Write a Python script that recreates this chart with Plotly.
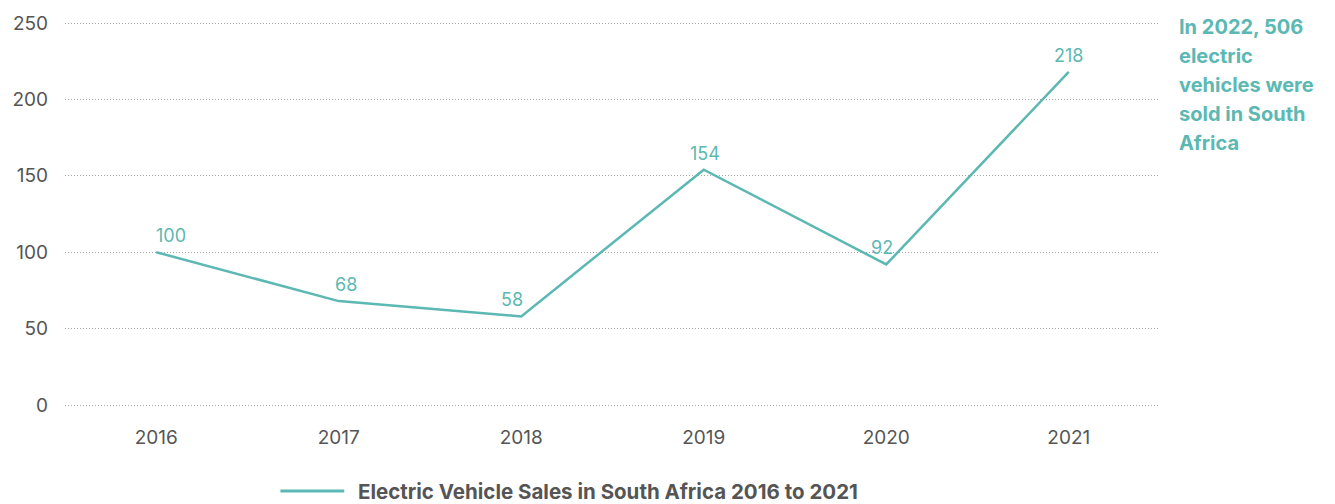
import plotly.graph_objects as go

years = ["2016", "2017", "2018", "2019", "2020", "2021"]
sales = [100, 68, 58, 154, 92, 218]
y_ticks = [0, 50, 100, 150, 200, 250]
series_name = "Electric Vehicle Sales in South Africa 2016 to 2021"
note_lines = ["In 2022, 506", "electric", "vehicles were", "sold in South", "Africa"]

TEAL = "#5bb8b2"
GREY = "#555555"
FONT = "Inter, Lato, sans-serif"

W, H = 1335, 504
# plot area padded by a few pixels so the 0 and 250 gridlines are drawn
PAD_PX = 5
ML, MR, MT, MB = 62, 175, 23 - PAD_PX, 99 - PAD_PX
PW, PH = W - ML - MR, H - MT - MB
Y_LO, Y_HI = 0, 250
pad_units = PAD_PX * (Y_HI - Y_LO) / (PH - 2 * PAD_PX)

fig = go.Figure()
fig.add_trace(go.Scatter(
    x=years, y=sales, mode="lines",
    name=series_name,
    line=dict(color=TEAL, width=2.5),
    showlegend=False,
))

# value labels above each point (category axis: index positions),
# nudged sideways a little so they sit clear of the line
label_nudge = [0, 7, -9, 1, -4, 0]
for i, v in enumerate(sales):
    fig.add_annotation(
        x=i, y=v, text=str(v), showarrow=False,
        xanchor="left" if i == 0 else "center", yanchor="bottom",
        xshift=-2 if i == 0 else label_nudge[i], yshift=4,
        font=dict(family=FONT, size=18, color=TEAL),
    )

# side note, one annotation per line for the tall line spacing
for i, line in enumerate(note_lines):
    ypix = 27 + i * 29
    fig.add_annotation(
        text=f"<b>{line}</b>", xref="paper", yref="paper",
        x=(1177 - ML) / PW, y=1 - (ypix - MT) / PH,
        xanchor="left", yanchor="middle", showarrow=False,
        font=dict(family=FONT, size=20, color=TEAL),
    )

# legend drawn below the axis
leg_y = 1 - (491 - MT) / PH
fig.add_shape(type="line", xref="paper", yref="paper",
              x0=(278 - ML) / PW, x1=(342 - ML) / PW, y0=leg_y, y1=leg_y,
              line=dict(color=TEAL, width=3))
fig.add_annotation(
    text=f"<b>{series_name}</b>", xref="paper", yref="paper",
    x=(354 - ML) / PW, y=leg_y, xanchor="left", yanchor="middle",
    showarrow=False, font=dict(family=FONT, size=20.5, color=GREY),
)

fig.update_layout(
    width=W, height=H,
    margin=dict(l=ML, r=MR, t=MT, b=MB),
    paper_bgcolor="white", plot_bgcolor="white",
    font=dict(family=FONT, size=19, color=GREY),
    showlegend=False,
)
fig.update_xaxes(
    type="category", range=[-0.5, 5.5],
    showgrid=False, showline=False, zeroline=False,
    ticks="", tickfont=dict(family=FONT, size=19, color=GREY),
    ticklabelstandoff=14,
)
fig.update_yaxes(
    range=[Y_LO - pad_units, Y_HI + pad_units], tickvals=y_ticks,
    showline=False, zeroline=False,
    showgrid=True, gridcolor="#a8a8a8", gridwidth=1, griddash="1px,2px",
    ticks="", tickfont=dict(family=FONT, size=19, color=GREY),
    ticklabelstandoff=16,
)

fig.write_html("out.html")
